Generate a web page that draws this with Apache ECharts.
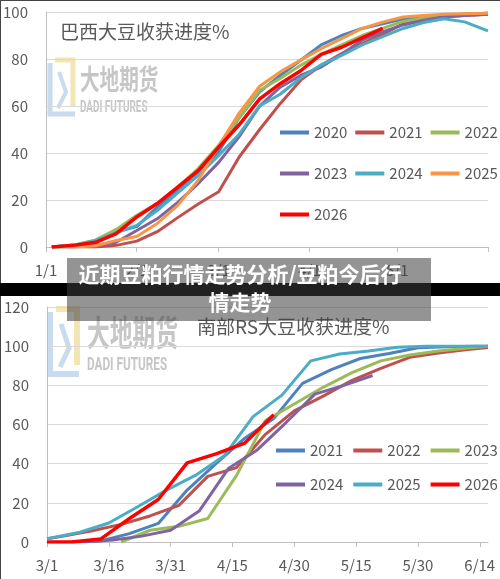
<!DOCTYPE html>
<html><head><meta charset="utf-8">
<script src="https://cdn.jsdelivr.net/npm/echarts@6/dist/echarts.min.js"></script>
<style>html,body{margin:0;padding:0;background:#fff}#c{width:500px;height:579px}</style>
</head><body><div id="c"></div><script>
// ---------- categories / tick labels ----------
const topMonths = [1,2,3,4,5,6];
const topMonthLens = [31,28,31,30,31,1];          // 1/1 .. 6/1
const topTickLabels = ['1/1','2/1','3/1','4/1','5/1'];
const botMonths = [3,4,5,6];
const botMonthLens = [31,30,31,16];               // 3/1 .. 6/16
const botTickEvery = 15;                          // 3/1, 3/16, 3/31 ...
const topYTicks = [0,20,40,60,80,100];
const botYTicks = [0,20,40,60,80,100,120];

// ---------- Brazil soybean harvest progress (day index from 1/1) ----------
const topDays = [2,10,17,24,31,38,45,52,59,66,73,80,87,94,101,108,115,122,129,136,143,151];
const br2020 = [0,0.8,2.8,6.5,8.7,17,24.5,32,40.5,55,66,73,79.5,86,90,93,95,97,98,98.5,99,99.5];
const br2021 = [0,0,0,0.7,2.5,6.5,12.5,18.3,23.5,38.3,50,61,71,77.3,82.3,86.5,90.5,95,97,98,98.5,99];
const br2022 = [0,1,3,7.5,13.5,18.5,25.5,33.4,43.3,55,66.7,71.7,77.3,82,86,90,93,96,97.5,98.5,99,99.5];
const br2023 = [0,0.3,0.7,2,7,12,19,27,36,47,60,68,73,76.6,82,88,91.5,94.5,96.5,98,98.5,99];
const br2024 = [0,0.8,2.8,6,9.2,15.5,23,30.5,39,48,60,65,72,77.5,81.5,86,89.5,93,95.5,97.1,95.8,92];
const br2025 = [0,0,0.5,2.8,4.5,10,17.7,28.4,43,57,68.4,74.5,79.5,84.4,88.7,93,95.7,97.9,98.5,99,99.3,99.5];
const br2026 = [0,0.8,2,5.7,12.8,18.5,25.5,32.5,42.5,52,63,69.5,75,82,85,89,93];

// ---------- RS (south) harvest progress (day index from 3/1) ----------
const rs2021Days = [6,13,20,27,34,41,48,55,62,69,76,83,90,97,104,107];
const rs2021 = [0,0.5,4.3,9.5,26.5,40,53,63,81,88,93.7,96.3,99.2,99.7,100,100];
const rs2022Days = [0,4,11,18,25,32,39,46,53,60,67,74,81,88,95,102,107];
const rs2022 = [1.7,3,5.7,9,13.3,18.7,33.5,38,55,67,74.5,82.5,88.7,94.3,96.5,98.3,99.3];
const rs2023Days = [18,25,32,39,46,53,60,67,74,81,88,95,102,107];
const rs2023 = [0,6,8,12,34,62,70.5,79,86.5,92.5,95.5,97.5,99,100];
const rs2024Days = [9,16,23,30,37,44,51,58,65,72,79];
const rs2024 = [0,1,3,6,16,37.5,47,61,75.5,80,85];
const rs2025Days = [0,8,15,22,29,36,43,50,57,64,71,78,85,92,99,107];
const rs2025 = [1.7,5,9.7,18,26.5,34,44,64,75,92.5,96,97.5,99.5,100,100,100];
const rs2026Days = [0,6,13,20,27,34,41,48,55];
const rs2026 = [0,0,1.5,12,21.7,40.4,45,50.5,65];

// ---------- text ----------
const topTitle = '巴西大豆收获进度%';
const botTitle = '南部RS大豆收获进度%';
const overlayLine1 = '近期豆粕行情走势分析/豆粕今后行';
const overlayLine2 = '情走势';

const colors = {
  '2020':'#4F81BD','2021':'#C0504D','2022':'#9BBB59','2023':'#8064A2',
  '2024':'#4BACC6','2025':'#F79646','2026':'#FF0000'
};
const colorsRS = {
  '2021':'#4F81BD','2022':'#C0504D','2023':'#9BBB59',
  '2024':'#8064A2','2025':'#4BACC6','2026':'#FF0000'
};

function mkCats(months, lens){
  const out=[];
  months.forEach((m,i)=>{for(let d=1;d<=lens[i];d++) out.push(m+'/'+d);});
  return out;
}
const topCats = mkCats(topMonths, topMonthLens);
const botCats = mkCats(botMonths, botMonthLens);

const FONT = "'Noto Sans CJK SC','Noto Sans',sans-serif";
const TXT = '#595959';
const GRID = '#D9D9D9';
const AX = '#BFBFBF';

function pairs(days, vals){ return vals.map((v,i)=>[days[i], v]); }

const topSeriesData = {'2020':br2020,'2021':br2021,'2022':br2022,'2023':br2023,'2024':br2024,'2025':br2025,'2026':br2026};
const botSeriesData = {
  '2021':[rs2021Days,rs2021],'2022':[rs2022Days,rs2022],'2023':[rs2023Days,rs2023],
  '2024':[rs2024Days,rs2024],'2025':[rs2025Days,rs2025],'2026':[rs2026Days,rs2026]
};

const series=[];
Object.keys(topSeriesData).forEach(y=>{
  series.push({
    name:'BR'+y, type:'line', xAxisIndex:0, yAxisIndex:0,
    data: pairs(topDays, topSeriesData[y]),
    symbol:'none', smooth:false, color:colors[y],
    lineStyle:{width: y==='2026'?3.5:3, color:colors[y]}, z: y==='2026'?5:3
  });
});
Object.keys(botSeriesData).forEach(y=>{
  series.push({
    name:'RS'+y, type:'line', xAxisIndex:1, yAxisIndex:1,
    data: pairs(botSeriesData[y][0], botSeriesData[y][1]),
    symbol:'none', smooth:false, color:colorsRS[y],
    lineStyle:{width: y==='2026'?3.5:3, color:colorsRS[y]}, z: y==='2026'?5:3
  });
});

function legendRow(names, left, top, gap){
  return {
    data:names, left:left, top:top, padding:0, itemGap:gap,
    icon:'rect', itemWidth:29, itemHeight:4, orient:'horizontal',
    selectedMode:false,
    formatter:n=>n.slice(-4),
    textStyle:{color:TXT, fontSize:15, fontFamily:FONT}
  };
}

function xAxisBase(gridIndex, cats){
  return {
    type:'category', gridIndex:gridIndex, data:cats, boundaryGap:false,
    axisLine:{show:true, lineStyle:{color:AX, width:1}},
    axisTick:{show:true, length:5, lineStyle:{color:AX}},
    axisLabel:{color:TXT, fontSize:15, fontFamily:FONT, margin:16, hideOverlap:false},
    splitLine:{show:false}
  };
}
const xTop = xAxisBase(0, topCats);
xTop.axisTick.interval = (i,v)=> v.endsWith('/1');
xTop.axisLabel.interval = (i,v)=> topTickLabels.indexOf(v)>=0;
const xBot = xAxisBase(1, botCats);
xBot.axisTick.interval = botTickEvery-1;
xBot.axisLabel.interval = botTickEvery-1;

function yAxisBase(gridIndex, ticks){
  return {
    type:'value', gridIndex:gridIndex, min:ticks[0], max:ticks[ticks.length-1],
    interval:ticks[1]-ticks[0],
    axisLine:{show:true, lineStyle:{color:AX, width:1}},
    axisTick:{show:false},
    axisLabel:{color:TXT, fontSize:15, fontFamily:FONT, margin:18},
    splitLine:{show:true, lineStyle:{color:GRID, width:1}}
  };
}

const wm = '#C6C6C6';
const graphic = [
  // top watermark logo + text
  {type:'polyline', z:0, shape:{points:[[50,63],[50,114],[75,114]]}, style:{stroke:'#C9DBEE', lineWidth:5, fill:null}},
  {type:'polyline', z:0, shape:{points:[[55,60],[73,60],[73,106]]}, style:{stroke:'#F3E5B4', lineWidth:5, fill:null}},
  {type:'polyline', z:0, shape:{points:[[59,72],[66,92],[58,108]]}, style:{stroke:'#C9DBEE', lineWidth:4, fill:null}},
  {type:'text', z:0, x:80, y:79, scaleX:0.7, style:{text:'大地期货', fontSize:28, fontWeight:'bold', fontFamily:FONT, fill:wm, textVerticalAlign:'middle', verticalAlign:'middle'}},
  {type:'text', z:0, x:80, y:107.5, scaleX:0.62, style:{text:'DADI FUTURES', fontSize:16, fontWeight:'bold', fontFamily:'Roboto', fill:wm, textVerticalAlign:'middle', verticalAlign:'middle'}},
  // bottom watermark logo + text
  {type:'polyline', z:0, shape:{points:[[50,312],[50,374],[79,374]]}, style:{stroke:'#C9DBEE', lineWidth:6, fill:null}},
  {type:'polyline', z:0, shape:{points:[[56,309],[77,309],[77,365]]}, style:{stroke:'#F3E5B4', lineWidth:6, fill:null}},
  {type:'polyline', z:0, shape:{points:[[61,324],[69,348],[60,367]]}, style:{stroke:'#C9DBEE', lineWidth:5, fill:null}},
  {type:'text', z:0, x:87, y:332.5, scaleX:0.65, style:{text:'大地期货', fontSize:35, fontWeight:'bold', fontFamily:FONT, fill:wm, textVerticalAlign:'middle', verticalAlign:'middle'}},
  {type:'text', z:0, x:87, y:365, scaleX:0.62, style:{text:'DADI FUTURES', fontSize:19, fontWeight:'bold', fontFamily:'Roboto', fill:wm, textVerticalAlign:'middle', verticalAlign:'middle'}},
  // image borders
  {type:'line', z:50, shape:{x1:0,y1:0.5,x2:500,y2:0.5}, style:{stroke:'#444', lineWidth:1}},
  {type:'line', z:50, shape:{x1:0.5,y1:0,x2:0.5,y2:283}, style:{stroke:'#444', lineWidth:1}},
  {type:'line', z:50, shape:{x1:0.5,y1:296,x2:0.5,y2:579}, style:{stroke:'#444', lineWidth:1}},
  // black separator band
  {type:'rect', z:100, shape:{x:0,y:283,width:500,height:13}, style:{fill:'#000'}},
  // grey caption overlay
  {type:'rect', z:101, shape:{x:67,y:258,width:364,height:63}, style:{fill:'rgba(60,60,60,0.55)'}},
  {type:'text', z:102, x:240, y:274, style:{text:overlayLine1, fontSize:21, fontWeight:'bold', fontFamily:FONT, fill:'#fff', textAlign:'center', align:'center', textVerticalAlign:'middle', verticalAlign:'middle'}},
  {type:'text', z:102, x:240, y:302, style:{text:overlayLine2, fontSize:21, fontWeight:'bold', fontFamily:FONT, fill:'#fff', textAlign:'center', align:'center', textVerticalAlign:'middle', verticalAlign:'middle'}}
];

const option = {
  animation:false,
  backgroundColor:'#fff',
  title:[
    {text:topTitle, left:60, top:22, padding:0, textStyle:{fontSize:19, color:TXT, fontWeight:'normal', fontFamily:FONT}},
    {text:botTitle, left:197, top:317, padding:0, textStyle:{fontSize:19, color:TXT, fontWeight:'normal', fontFamily:FONT}}
  ],
  grid:[
    {left:46, top:12, width:442, height:235, containLabel:false},
    {left:47, top:307, width:441, height:235, containLabel:false}
  ],
  xAxis:[xTop, xBot],
  yAxis:[yAxisBase(0, topYTicks), yAxisBase(1, botYTicks)],
  legend:[
    legendRow(['BR2020','BR2021','BR2022'], 280, 125, 8),
    legendRow(['BR2023','BR2024','BR2025'], 280, 166, 8),
    legendRow(['BR2026'], 280, 207, 8),
    legendRow(['RS2021','RS2022','RS2023'], 276, 443, 10),
    legendRow(['RS2024','RS2025','RS2026'], 276, 477, 10)
  ],
  series:series,
  graphic:graphic
};
const chart = echarts.init(document.getElementById('c'), null, {renderer:'canvas'});
chart.setOption(option);
</script></body></html>
